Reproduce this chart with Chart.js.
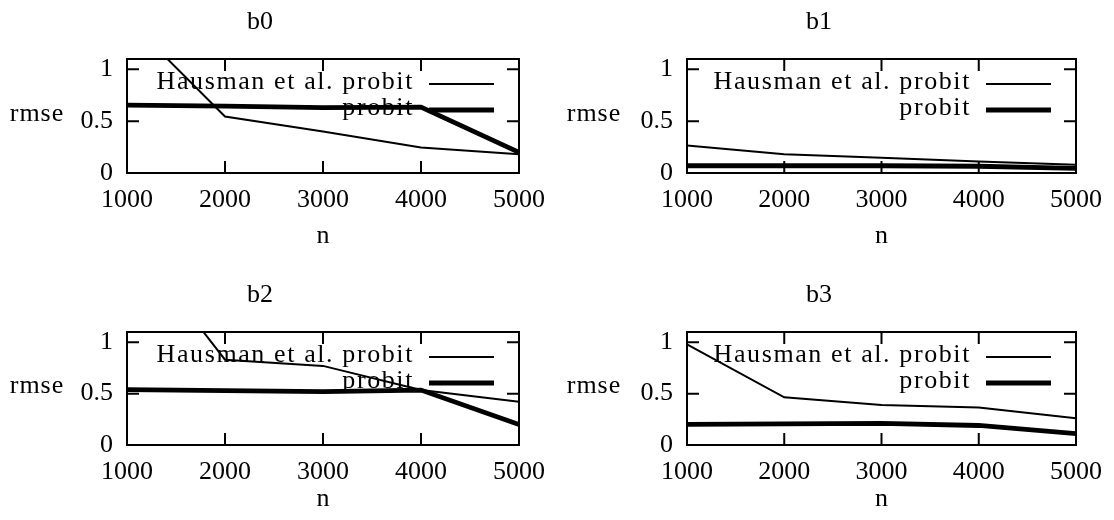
<!DOCTYPE html>
<html>
<head>
<meta charset="utf-8">
<script src="https://cdn.jsdelivr.net/npm/chart.js@4.4.1/dist/chart.umd.min.js"></script>
<style>
  body { margin: 0; background: #fff; }
  #wrap { position: relative; width: 1114px; height: 520px; overflow: hidden; }
  canvas { position: absolute; }
</style>
</head>
<body>
<div id="wrap">
  <canvas id="c0" width="557" height="260" style="left:0;top:0"></canvas>
  <canvas id="c1" width="557" height="260" style="left:557px;top:0"></canvas>
  <canvas id="c2" width="557" height="260" style="left:0;top:260px"></canvas>
  <canvas id="c3" width="557" height="260" style="left:557px;top:260px"></canvas>
</div>
<script>
const nValues = [1000, 2000, 3000, 4000, 5000];
const yTickValues = [0, 0.5, 1];
const seriesLabels = ["Hausman et al. probit", "probit"];

const hausmanB0 = [1.49, 0.545, 0.40, 0.245, 0.18];
const probitB0  = [0.655, 0.645, 0.63, 0.635, 0.2];
const hausmanB1 = [0.265, 0.18, 0.147, 0.11, 0.08];
const probitB1  = [0.07, 0.07, 0.07, 0.065, 0.045];
const hausmanB2 = [2.06, 0.83, 0.77, 0.535, 0.42];
const probitB2  = [0.54, 0.53, 0.52, 0.535, 0.2];
const hausmanB3 = [0.98, 0.464, 0.39, 0.365, 0.26];
const probitB3  = [0.2, 0.205, 0.21, 0.19, 0.11];

const FONT = "'Liberation Serif', 'Times New Roman', serif";
const FS = 26;

// plot area of each panel inside its canvas
const panels = [
    { id: "c0", title: "b0", h: hausmanB0, p: probitB0, left: 127, right: 520, top: 59, bottom: 173, titleTop: 7, nPad: 8 },
    { id: "c1", title: "b1", h: hausmanB1, p: probitB1, left: 130, right: 524, top: 59, bottom: 173, titleTop: 7, nPad: 8 },
    { id: "c2", title: "b2", h: hausmanB2, p: probitB2, left: 127, right: 520, top: 72, bottom: 185, titleTop: 20, nPad: 5 },
    { id: "c3", title: "b3", h: hausmanB3, p: probitB3, left: 130, right: 524, top: 72, bottom: 185, titleTop: 20, nPad: 5 }
];

const framePlugin = {
    id: "frame",
    afterDatasetsDraw(chart) {
        const { ctx, chartArea: a, scales: { x, y } } = chart;
        ctx.save();
        ctx.strokeStyle = "#000";
        ctx.lineWidth = 2;
        ctx.strokeRect(a.left, a.top, a.right - a.left, a.bottom - a.top);
        ctx.beginPath();
        x.ticks.forEach(t => {
            const px = x.getPixelForValue(t.value);
            ctx.moveTo(px, a.bottom); ctx.lineTo(px, a.bottom - 12);
            ctx.moveTo(px, a.top); ctx.lineTo(px, a.top + 12);
        });
        y.ticks.forEach(t => {
            const py = y.getPixelForValue(t.value);
            ctx.moveTo(a.left, py); ctx.lineTo(a.left + 12, py);
            ctx.moveTo(a.right, py); ctx.lineTo(a.right - 12, py);
        });
        ctx.stroke();

        // "rmse" label, horizontal like gnuplot
        ctx.fillStyle = "#000";
        ctx.font = FS + "px " + FONT;
        ctx.letterSpacing = "1px";
        ctx.textAlign = "center";
        ctx.textBaseline = "middle";
        ctx.fillText("rmse", 37, (a.top + a.bottom) / 2 - 2);

        // legend inside the plot
        ctx.letterSpacing = "1.6px";
        ctx.textAlign = "right";
        chart.data.datasets.forEach((ds, i) => {
            const ly = a.top + 25 + i * 26;
            ctx.fillText(ds.label, a.right - 105, ly - 2);
            ctx.lineWidth = ds.borderWidth;
            ctx.beginPath();
            ctx.moveTo(a.right - 90, ly);
            ctx.lineTo(a.right - 25, ly);
            ctx.stroke();
        });
        ctx.restore();
    }
};

panels.forEach(pn => {
    new Chart(document.getElementById(pn.id), {
        type: "line",
        data: {
            datasets: [
                {
                    label: seriesLabels[0],
                    data: nValues.map((n, i) => ({ x: n, y: pn.h[i] })),
                    borderColor: "#000",
                    borderWidth: 2,
                    pointRadius: 0,
                    tension: 0
                },
                {
                    label: seriesLabels[1],
                    data: nValues.map((n, i) => ({ x: n, y: pn.p[i] })),
                    borderColor: "#000",
                    borderWidth: 4.8,
                    pointRadius: 0,
                    tension: 0
                }
            ]
        },
        options: {
            responsive: false,
            animation: false,
            layout: { padding: { left: 0, right: 557 - pn.right, top: 0, bottom: 0 } },
            plugins: {
                legend: { display: false },
                tooltip: { enabled: false },
                title: {
                    display: true,
                    text: pn.title,
                    color: "#000",
                    font: { family: FONT, size: FS, weight: "normal" },
                    padding: { top: pn.titleTop, bottom: pn.top - pn.titleTop - FS * 1.2 }
                }
            },
            scales: {
                x: {
                    type: "linear",
                    min: 1000,
                    max: 5000,
                    grid: { display: false, drawTicks: false },
                    border: { display: false },
                    ticks: {
                        stepSize: 1000,
                        padding: 12,
                        color: "#000",
                        font: { family: FONT, size: FS },
                        maxRotation: 0,
                        callback: v => String(v)
                    },
                    title: {
                        display: true,
                        text: "n",
                        color: "#000",
                        font: { family: FONT, size: FS },
                        padding: { top: 0, bottom: pn.nPad }
                    },
                    afterFit: s => { s.height = 260 - pn.bottom; }
                },
                y: {
                    min: 0,
                    max: 1.1,
                    grid: { display: false, drawTicks: false },
                    border: { display: false },
                    ticks: {
                        padding: 14,
                        color: "#000",
                        font: { family: FONT, size: FS },
                        callback: v => String(v)
                    },
                    afterBuildTicks: s => { s.ticks = yTickValues.map(v => ({ value: v })); },
                    afterFit: s => { s.width = pn.left; }
                }
            }
        },
        plugins: [framePlugin]
    });
});
</script>
</body>
</html>
